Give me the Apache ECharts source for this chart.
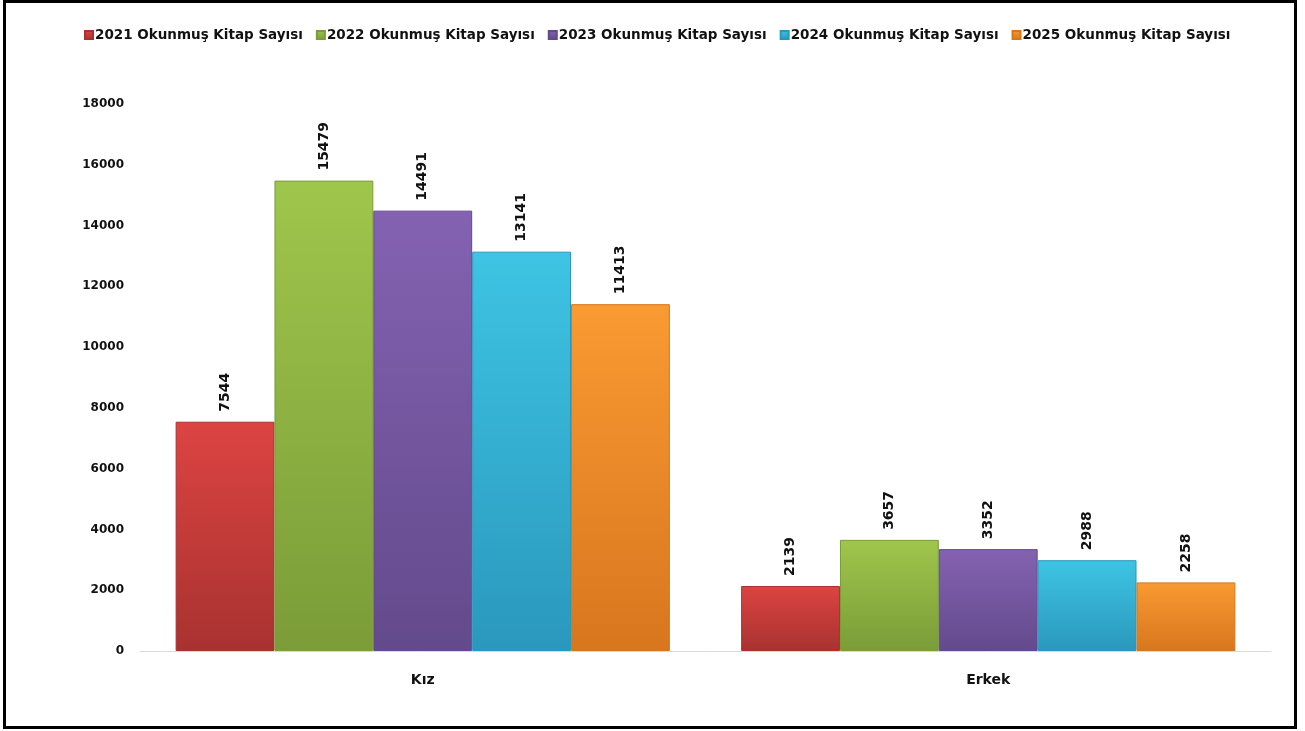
<!DOCTYPE html>
<html><head><meta charset="utf-8">
<script src="https://cdn.jsdelivr.net/npm/echarts@6/dist/echarts.min.js"></script>
<style>html,body{margin:0;padding:0;background:#fff}#c{width:1305px;height:731px}</style>
</head><body><div id="c"></div>
<script>
const categories = ['Kız', 'Erkek'];
const seriesNames = ['2021 Okunmuş Kitap Sayısı','2022 Okunmuş Kitap Sayısı','2023 Okunmuş Kitap Sayısı','2024 Okunmuş Kitap Sayısı','2025 Okunmuş Kitap Sayısı'];
const v2021 = [7544, 2139];
const v2022 = [15479, 3657];
const v2023 = [14491, 3352];
const v2024 = [13141, 2988];
const v2025 = [11413, 2258];
const values = [v2021, v2022, v2023, v2024, v2025];
const colorsTop = ['#dc4442','#9fc64c','#8462b2','#3ec4e4','#f99a32'];
const colorsBot = ['#a83230','#7b9c38','#634a8c','#2a98bc','#d8761e'];
const font = 'DejaVu Sans';
const chart = echarts.init(document.getElementById('c'));
chart.setOption({
  animation: false,
  graphic: [{type:'rect', shape:{x:4.5,y:1.5,width:1291,height:726}, style:{fill:'none',stroke:'#000',lineWidth:3}, z:100}],
  legend: {
    top: 23, left: 79, itemWidth: 8, itemHeight: 8, itemGap: 13,
    icon: 'rect',
    textStyle: {fontFamily: font, fontWeight: 'bold', fontSize: 13.5, color: '#111', padding:[0,0,0,-3]},
    data: seriesNames
  },
  grid: {left: 140, right: 34, top: 104, bottom: 80},
  xAxis: {
    type: 'category', data: categories,
    axisLine: {lineStyle: {color: '#d9d9d9', width: 1}},
    axisTick: {show: false},
    axisLabel: {fontFamily: font, fontWeight: 'bold', fontSize: 14, color: '#111', margin: 22}
  },
  yAxis: {
    type: 'value', min: 0, max: 18000, interval: 2000,
    splitLine: {show: false}, axisLine: {show: false}, axisTick: {show: false},
    axisLabel: {fontFamily: font, fontWeight: 'bold', fontSize: 12, color: '#111', margin: 16, formatter: v => String(v)}
  },
  series: values.map((d, i) => ({
    name: seriesNames[i], type: 'bar', data: d,
    barGap: '0%', barCategoryGap: '12.6%',
    itemStyle: {
      color: new echarts.graphic.LinearGradient(0,0,0,1,[{offset:0,color:colorsTop[i]},{offset:1,color:colorsBot[i]}]),
      borderColor: colorsBot[i], borderWidth: 1
    },
    label: {
      show: true, position: 'top', rotate: 90, align: 'left', verticalAlign: 'middle',
      distance: 10, fontFamily: font, fontWeight: 'bold', fontSize: 14, color: '#111'
    }
  }))
});
</script></body></html>
